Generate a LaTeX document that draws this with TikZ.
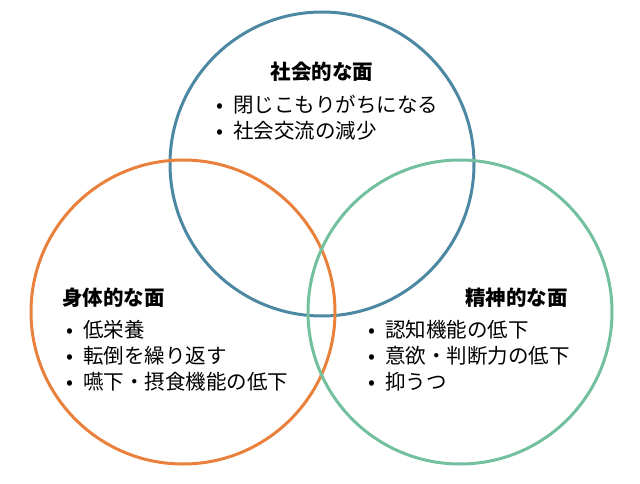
\documentclass[tikz,border=0pt]{standalone}
\usepackage{fontspec}
\setmainfont{Noto Sans CJK JP}
\definecolor{socblue}{HTML}{4D88A3}
\definecolor{bodyorange}{HTML}{E9813D}
\definecolor{mindgreen}{HTML}{72C09E}
\tikzset{
    ring/.style={line width=3pt},
    heading/.style={font=\fontsize{20.5}{24}\selectfont\bfseries, inner sep=0pt},
    item/.style={font=\fontsize{20.5}{24}\selectfont, anchor=west, inner sep=0pt}
}
\begin{document}
\begin{tikzpicture}[x=1pt,y=-1pt]
		\useasboundingbox (0,0) rectangle (640,484);

		% Circles
		\draw[ring, socblue] (322,164) circle (152);
		\draw[ring, bodyorange] (183,312) circle (152);
		\draw[ring, mindgreen] (460,312) circle (152);

		% Social side
		\node[heading] (soc) at (322,72) {社会的な面};
		\node[item] (soc1) at (216,105) {•\enspace 閉じこもりがちになる};
		\node[item] (soc2) at (216,131) {•\enspace 社会交流の減少};

		% Physical side
		\node[heading, anchor=west] (body) at (62,298) {身体的な面};
		\node[item] (body1) at (66,330) {•\enspace 低栄養};
		\node[item] (body2) at (66,356) {•\enspace 転倒を繰り返す};
		\node[item] (body3) at (66,382) {•\enspace 嚥下・摂食機能の低下};

		% Mental side
		\node[heading, anchor=east] (mind) at (568,298) {精神的な面};
		\node[item] (mind1) at (368,330) {•\enspace 認知機能の低下};
		\node[item] (mind2) at (368,356) {•\enspace 意欲・判断力の低下};
		\node[item] (mind3) at (368,382) {•\enspace 抑うつ};

	\end{tikzpicture}
\end{document}
